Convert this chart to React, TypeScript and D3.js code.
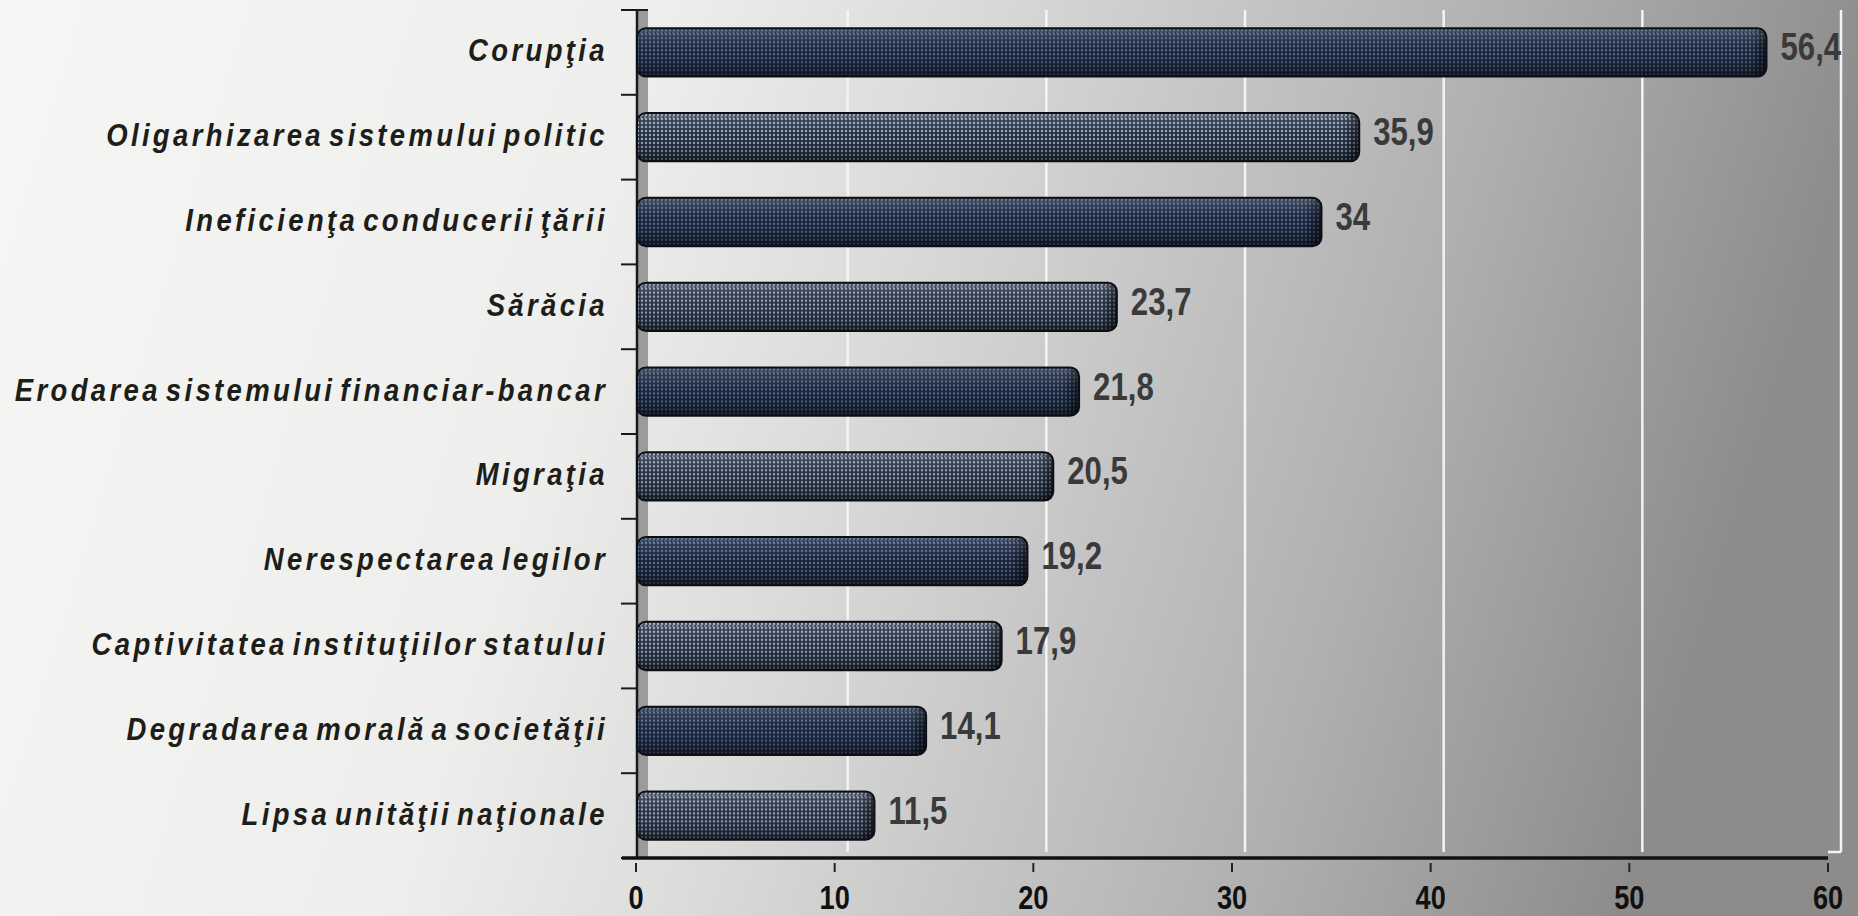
import React, { useRef, useEffect } from "react";
import * as d3 from "d3";

const categories = [
  "Corupţia",
  "Oligarhizarea sistemului politic",
  "Ineficienţa conducerii ţării",
  "Sărăcia",
  "Erodarea sistemului financiar-bancar",
  "Migraţia",
  "Nerespectarea legilor",
  "Captivitatea instituţiilor statului",
  "Degradarea morală a societăţii",
  "Lipsa unităţii naţionale",
];
const values = [56.4, 35.9, 34, 23.7, 21.8, 20.5, 19.2, 17.9, 14.1, 11.5];
const valueLabels = ["56,4", "35,9", "34", "23,7", "21,8", "20,5", "19,2", "17,9", "14,1", "11,5"];
const xTicks = [0, 10, 20, 30, 40, 50, 60];

const App = () => {
  const chartRef = useRef<HTMLDivElement>(null);

  useEffect(() => {
    const width = 1858;
    const height = 916;
    const plotLeft = 636;
    const plotRight = 1828;
    const plotTop = 10;
    const plotBottom = 858;
    const depth = 13;
    const cap = 10;
    const font = "'Liberation Sans', Arial, sans-serif";

    const data = categories.map((c, i) => ({ cat: c, value: values[i], label: valueLabels[i], i }));

    const x = d3.scaleLinear().domain([0, 60]).range([plotLeft, plotRight]);
    const y = d3.scaleBand<string>()
      .domain(categories)
      .range([plotTop, plotBottom])
      .paddingInner(0.43)
      .paddingOuter(0.215);
    const step = y.step();

    const svg = d3.create("svg")
      .attr("width", width)
      .attr("height", height)
      .attr("viewBox", [0, 0, width, height].join(" "))
      .attr("style", "position:absolute;left:0;top:0;display:block");

    const defs = svg.append("defs");

    const bg = defs.append("linearGradient")
      .attr("id", "bg")
      .attr("x1", "0").attr("y1", "0").attr("x2", "1").attr("y2", "0.15");
    [
      [0, "#f6f6f4"],
      [0.35, "#eeeeec"],
      [0.5, "#dcdcdb"],
      [0.65, "#c6c6c6"],
      [0.8, "#b0b0b0"],
      [1, "#8c8c8c"],
    ].forEach(([o, c]) => bg.append("stop").attr("offset", o as number).attr("stop-color", c as string));

    // dotted texture for the two bar styles
    const patterns = [
      { id: "dotDark", base: "#1a2335", dot: "#506a94" },
      { id: "dotLight", base: "#242e3f", dot: "#93a4bb" },
    ];
    patterns.forEach(p => {
      const pat = defs.append("pattern")
        .attr("id", p.id)
        .attr("width", 4)
        .attr("height", 4)
        .attr("patternUnits", "userSpaceOnUse");
      pat.append("rect").attr("width", 4).attr("height", 4).attr("fill", p.base);
      pat.append("circle").attr("cx", 2).attr("cy", 2).attr("r", 1.25).attr("fill", p.dot);
    });

    const shade = defs.append("linearGradient")
      .attr("id", "shade")
      .attr("x1", "0").attr("y1", "0").attr("x2", "0").attr("y2", "1");
    [
      [0, "#ffffff", 0.15],
      [0.3, "#ffffff", 0.05],
      [0.55, "#000000", 0],
      [0.85, "#000000", 0.3],
      [1, "#000000", 0.6],
    ].forEach(([o, c, a]) => shade.append("stop")
      .attr("offset", o as number)
      .attr("stop-color", c as string)
      .attr("stop-opacity", a as number));

    const endShade = defs.append("linearGradient")
      .attr("id", "endShade")
      .attr("x1", "0").attr("y1", "0").attr("x2", "1").attr("y2", "0");
    [
      [0, 0],
      [1, 0.55],
    ].forEach(([o, a]) => endShade.append("stop")
      .attr("offset", o)
      .attr("stop-color", "#000")
      .attr("stop-opacity", a));

    svg.append("rect").attr("width", width).attr("height", height).attr("fill", "url(#bg)");

    // gridlines on the back wall
    svg.append("g")
      .selectAll("line")
      .data(xTicks.slice(1))
      .join("line")
      .attr("x1", d => x(d) + depth)
      .attr("x2", d => x(d) + depth)
      .attr("y1", plotTop)
      .attr("y2", plotBottom - 6)
      .attr("stroke", "#f4f4f4")
      .attr("stroke-width", 2.5);
    svg.append("line")
      .attr("x1", x(60) + depth).attr("x2", x(60))
      .attr("y1", plotBottom - 6).attr("y2", plotBottom - 6)
      .attr("stroke", "#f4f4f4").attr("stroke-width", 2.5);

    // y axis wall
    svg.append("rect")
      .attr("x", plotLeft)
      .attr("y", plotTop)
      .attr("width", 12)
      .attr("height", plotBottom - plotTop)
      .attr("fill", "#9b9b9b");
    svg.append("line")
      .attr("x1", plotLeft + 1).attr("x2", plotLeft + 1)
      .attr("y1", plotTop).attr("y2", plotBottom)
      .attr("stroke", "#1a1a1a").attr("stroke-width", 2.5);
    svg.append("g")
      .selectAll("line")
      .data(d3.range(categories.length + 1))
      .join("line")
      .attr("x1", plotLeft - 15)
      .attr("x2", d => d === 0 ? plotLeft + 12 : plotLeft)
      .attr("y1", d => plotTop + d * step)
      .attr("y2", d => plotTop + d * step)
      .attr("stroke", "#1a1a1a")
      .attr("stroke-width", 2);

    // bars
    const bars = svg.append("g")
      .selectAll("g")
      .data(data)
      .join("g")
      .attr("transform", d => `translate(0,${y(d.cat)})`);

    bars.append("rect")
      .attr("x", plotLeft + 1)
      .attr("y", 0)
      .attr("width", d => x(d.value) - plotLeft - 1 + cap)
      .attr("height", y.bandwidth())
      .attr("rx", 9)
      .attr("fill", d => d.i % 2 === 0 ? "url(#dotDark)" : "url(#dotLight)");
    bars.append("rect")
      .attr("x", d => x(d.value) + cap - 16)
      .attr("y", 0)
      .attr("width", 16)
      .attr("height", y.bandwidth())
      .attr("rx", 9)
      .attr("fill", "url(#endShade)");
    bars.append("rect")
      .attr("x", plotLeft + 1)
      .attr("y", 0)
      .attr("width", d => x(d.value) - plotLeft - 1 + cap)
      .attr("height", y.bandwidth())
      .attr("rx", 9)
      .attr("fill", "url(#shade)")
      .attr("stroke", "#0d0f14")
      .attr("stroke-width", 2);
    bars.append("line")
      .attr("x1", plotLeft + 4)
      .attr("x2", d => x(d.value) + cap - 8)
      .attr("y1", 4)
      .attr("y2", 4)
      .attr("stroke", d => d.i % 2 === 0 ? "#6c83a8" : "#c9d4e2")
      .attr("stroke-opacity", 0.5)
      .attr("stroke-width", 1.5)
      .attr("stroke-dasharray", "2 2");

    // value labels (condensed)
    svg.append("g")
      .selectAll("text")
      .data(data)
      .join("text")
      .attr("transform", d => `translate(${x(d.value) + cap + 14},${(y(d.cat) as number) + y.bandwidth() / 2 + 8}) scale(0.82,1)`)
      .attr("fill", "#3a3a3a")
      .style("font-family", font)
      .style("font-weight", "bold")
      .style("font-size", "38px")
      .text(d => d.label);

    // category labels (narrow italic, spaced out)
    svg.append("g")
      .selectAll("text")
      .data(data)
      .join("text")
      .attr("transform", d => `translate(608,${(y(d.cat) as number) + y.bandwidth() / 2 + 9}) scale(0.86,1)`)
      .attr("text-anchor", "end")
      .attr("fill", "#1d1d19")
      .style("font-family", font)
      .style("font-style", "italic")
      .style("font-weight", "bold")
      .style("font-size", "32px")
      .style("letter-spacing", "3.9px")
      .style("word-spacing", "-7px")
      .text(d => d.cat);

    // x axis
    const xAxis = svg.append("g");
    xAxis.append("line")
      .attr("x1", 622).attr("x2", plotRight)
      .attr("y1", plotBottom).attr("y2", plotBottom)
      .attr("stroke", "#111").attr("stroke-width", 3.5);
    xAxis.selectAll("line.tick")
      .data(xTicks)
      .join("line")
      .attr("class", "tick")
      .attr("x1", d => x(d)).attr("x2", d => x(d))
      .attr("y1", plotBottom + 5).attr("y2", plotBottom + 14)
      .attr("stroke", "#222").attr("stroke-width", 2);
    xAxis.selectAll("text")
      .data(xTicks)
      .join("text")
      .attr("transform", d => `translate(${x(d)},909) scale(0.8,1)`)
      .attr("text-anchor", "middle")
      .attr("fill", "#111")
      .style("font-family", font)
      .style("font-weight", "bold")
      .style("font-size", "34px")
      .text(d => d);

    chartRef.current!.innerHTML = "";
    chartRef.current!.appendChild(svg.node()!);
  }, []);

  return <div ref={chartRef} />;
};

export default App;
